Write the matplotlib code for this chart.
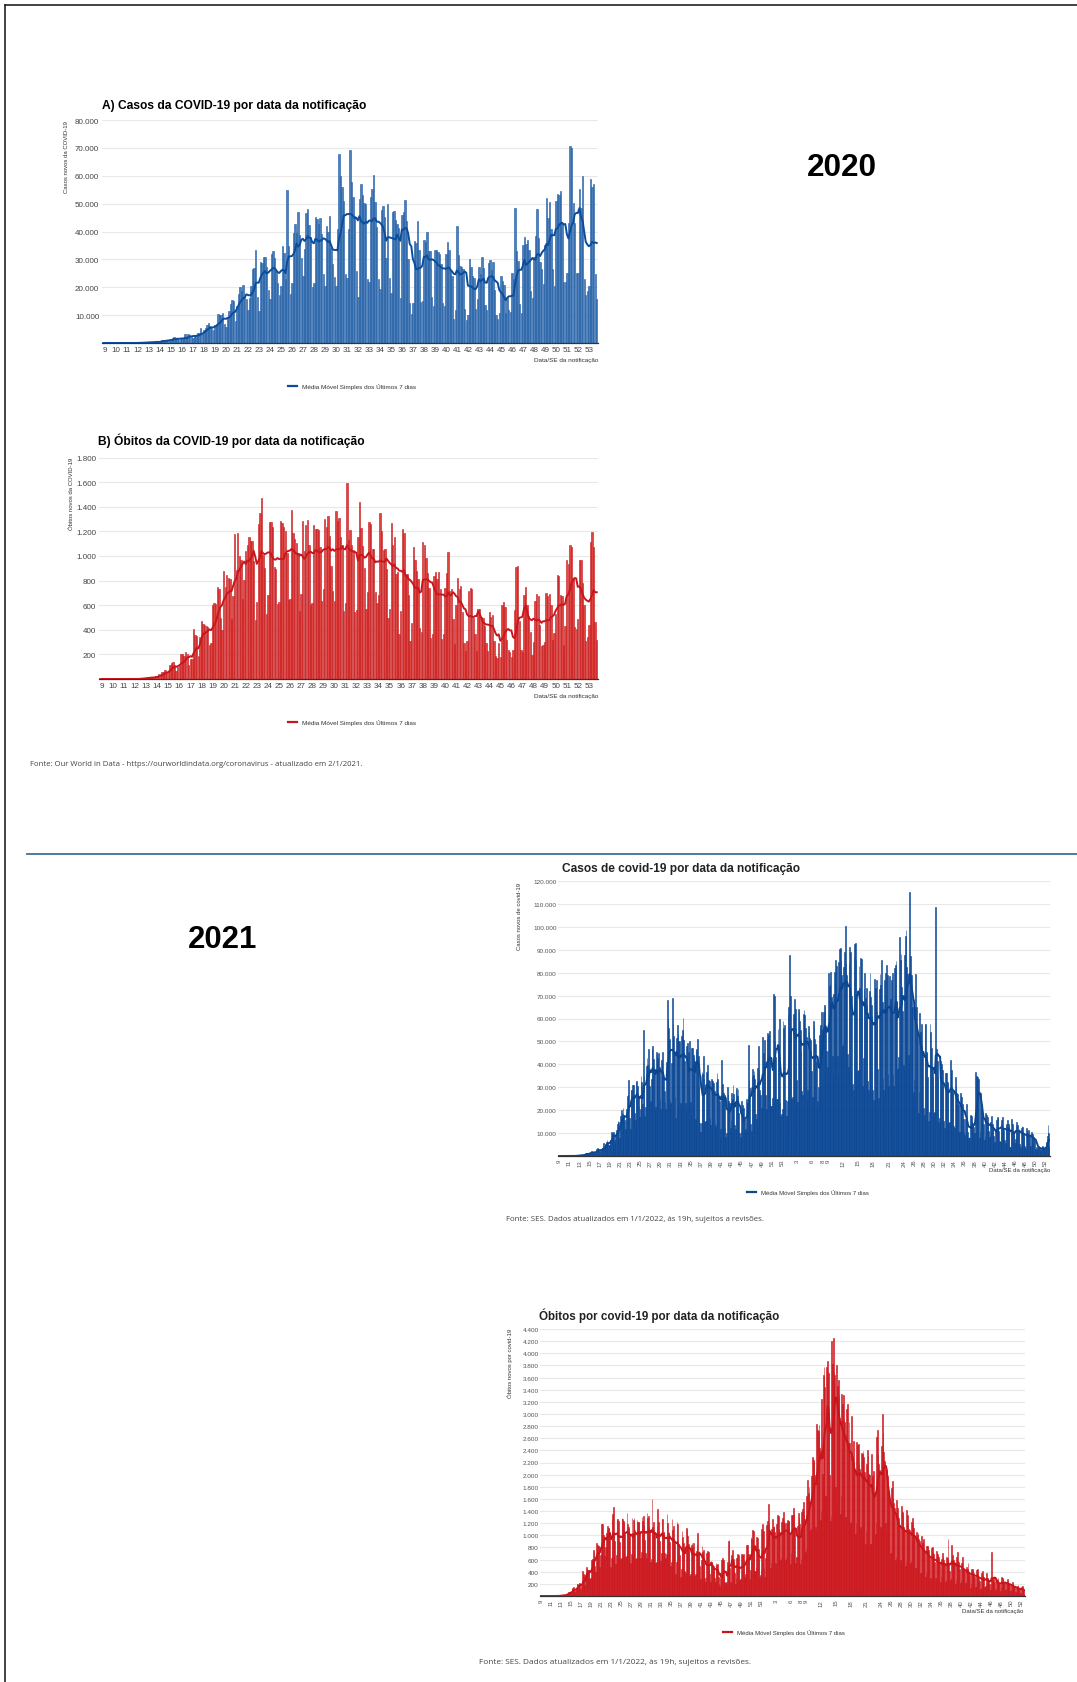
import numpy as np
import pandas as pd
import matplotlib
matplotlib.use("Agg")
import matplotlib.pyplot as plt
from matplotlib.lines import Line2D
from matplotlib.ticker import FuncFormatter

plt.rcParams["font.family"] = ["Liberation Sans", "DejaVu Sans"]

W, H = 1077, 1683

# Novos casos diarios (milhares), SE 9/2020 a SE 53/2020, domingo a sabado
cases_2020_k = [
    0.0, 0.0, 0.0, 0.0, 0.0, 0.0, 0.0,
    0.0, 0.0, 0.0, 0.0, 0.0, 0.0, 0.0,
    0.0, 0.0, 0.0, 0.0, 0.1, 0.0, 0.0,
    0.1, 0.0, 0.1, 0.1, 0.2, 0.3, 0.2,
    0.4, 0.3, 0.3, 0.2, 0.5, 0.5, 0.5,
    0.4, 0.3, 1.1, 1.1, 1.1, 1.1, 1.2,
    0.9, 0.9, 1.7, 2.2, 1.9, 1.8, 1.1,
    1.4, 1.3, 1.8, 3.1, 2.1, 3.3, 2.9,
    2.1, 1.9, 2.5, 2.7, 3.7, 3.5, 5.5,
    3.4, 4.6, 5.4, 6.3, 7.2, 6.2, 5.0,
    4.6, 6.6, 6.9, 10.5, 9.9, 10.2, 10.6,
    6.8, 5.6, 9.3, 11.4, 13.9, 15.3, 14.9,
    7.9, 13.1, 17.4, 20.0, 18.5, 20.8, 16.5,
    15.8, 11.7, 16.3, 20.6, 26.4, 26.9, 33.3,
    16.4, 11.6, 28.9, 28.6, 31.0, 30.8, 27.1,
    18.9, 15.7, 32.1, 32.9, 30.4, 26.0, 21.7,
    17.1, 20.6, 34.9, 32.2, 22.8, 54.8, 34.7,
    17.5, 21.4, 39.4, 42.7, 39.5, 46.9, 38.7,
    30.5, 24.1, 33.8, 46.7, 48.1, 42.2, 37.9,
    20.2, 21.5, 45.3, 44.6, 42.6, 45.0, 39.0,
    24.8, 20.3, 41.9, 39.9, 45.4, 34.2, 28.5,
    23.5, 20.3, 41.0, 67.9, 60.0, 55.9, 51.1,
    24.6, 23.3, 40.8, 69.1, 57.8, 52.4, 45.4,
    25.8, 16.6, 51.6, 57.2, 53.1, 50.2, 50.0,
    23.0, 22.0, 52.2, 55.2, 60.1, 50.6, 41.6,
    23.1, 19.4, 47.8, 49.3, 45.3, 30.4, 50.0,
    23.4, 17.8, 47.1, 47.2, 44.2, 42.7, 41.4,
    16.2, 46.0, 46.9, 51.2, 43.8, 30.2, 14.5,
    10.3, 14.3, 36.7, 35.8, 43.7, 33.5, 14.8,
    15.2, 36.8, 36.3, 39.8, 33.1, 32.9, 16.4,
    13.4, 33.5, 33.3, 32.8, 31.9, 28.4, 14.2,
    13.2, 32.1, 36.2, 33.4, 26.3, 24.1, 8.5,
    11.9, 41.9, 31.6, 27.8, 27.4, 26.7, 12.3,
    8.4, 10.2, 30.0, 27.2, 24.1, 23.2, 12.3,
    15.8, 27.4, 24.8, 30.9, 27.0, 13.5, 11.8,
    28.6, 29.8, 26.1, 29.1, 18.9, 10.1, 8.5,
    10.6, 24.0, 22.4, 20.9, 10.9, 16.2, 12.0,
    11.0, 25.0, 23.0, 48.5, 33.0, 29.5, 14.0,
    10.8, 35.0, 38.0, 35.5, 37.0, 33.5, 18.5,
    16.0, 31.0, 38.5, 48.0, 37.5, 29.0, 26.5,
    21.0, 35.0, 52.0, 45.0, 50.5, 41.0, 26.5,
    20.5, 51.0, 53.5, 53.0, 54.5, 43.0, 22.0,
    21.8, 25.2, 42.9, 70.6, 69.8, 50.2, 43.0,
    25.0, 25.0, 55.3, 48.3, 60.0, 23.0, 17.3,
    18.5, 20.5, 58.7, 56.0, 57.0, 24.6, 15.8,
]

# Novos obitos diarios, SE 9/2020 a SE 53/2020
deaths_2020 = [
    0, 0, 0, 0, 0, 0, 0,
    0, 0, 0, 0, 0, 0, 0,
    0, 0, 0, 0, 0, 0, 0,
    0, 0, 1, 3, 4, 7, 8,
    9, 9, 13, 10, 19, 12, 15,
    22, 23, 42, 40, 58, 60, 73,
    54, 67, 114, 133, 141, 115, 68,
    99, 105, 204, 204, 188, 217, 206,
    113, 166, 165, 407, 357, 346, 189,
    338, 474, 449, 435, 428, 421, 275,
    296, 600, 615, 610, 751, 730, 496,
    396, 881, 749, 844, 824, 816, 485,
    674, 1179, 888, 1188, 1001, 965, 653,
    807, 1039, 1086, 1156, 1124, 1124, 956,
    480, 623, 1262, 1349, 1473, 1005, 904,
    525, 679, 1274, 1272, 1239, 909, 892,
    612, 627, 1282, 1269, 1238, 1206, 1022,
    641, 654, 1374, 1185, 1141, 1109, 1022,
    552, 692, 1280, 1038, 1252, 1290, 1091,
    602, 620, 1254, 1223, 1220, 1214, 1071,
    631, 733, 1300, 1233, 1322, 1163, 921,
    716, 632, 1367, 1284, 1311, 1156, 1088,
    555, 614, 1595, 1129, 1212, 1088, 1048,
    541, 561, 1154, 1437, 1226, 1079, 905,
    572, 703, 1274, 1262, 1060, 1060, 709,
    620, 684, 1352, 1204, 1045, 1054, 892,
    494, 565, 1271, 1085, 1156, 855, 869,
    366, 553, 1215, 1184, 834, 851, 682,
    310, 452, 1075, 967, 874, 814, 415,
    381, 1113, 1090, 987, 858, 739, 337,
    363, 836, 869, 809, 869, 729, 327,
    363, 741, 865, 1031, 717, 734, 488,
    282, 599, 819, 730, 754, 541, 293,
    230, 309, 713, 740, 730, 497, 363,
    230, 571, 566, 507, 497, 434, 296,
    226, 546, 507, 523, 311, 190, 169,
    295, 182, 600, 628, 589, 315, 237,
    216, 176, 234, 558, 910, 920, 469,
    237, 216, 683, 750, 605, 513, 384,
    194, 302, 630, 691, 675, 438, 266,
    280, 300, 697, 674, 694, 600, 319,
    370, 529, 842, 837, 686, 674, 279,
    433, 968, 936, 1092, 1075, 823, 419,
    410, 486, 968, 963, 778, 604, 309,
    343, 437, 1111, 1194, 1074, 462, 314,
]

# Novos casos diarios (milhares), SE 1/2021 a SE 52/2021
cases_2021_k = [
    17.3, 24.0, 62.0, 65.0, 87.8, 70.0, 52.0,
    25.0, 25.9, 61.8, 60.9, 68.5, 64.0, 56.0,
    33.0, 23.7, 64.0, 63.3, 59.1, 55.0, 46.0,
    28.3, 26.8, 61.9, 63.5, 61.7, 56.0, 52.0,
    24.6, 29.0, 56.9, 54.1, 51.4, 50.6, 37.0,
    23.0, 25.9, 59.0, 56.9, 51.0, 49.0, 41.0,
    21.0, 24.0, 30.0, 53.0, 56.0, 57.0, 63.0,
    29.0, 55.0, 63.0, 66.0, 65.0, 55.0, 46.0,
    39.0, 46.0, 79.9, 74.4, 75.1, 80.5, 69.6,
    43.8, 35.8, 70.7, 80.5, 75.1, 85.7, 83.0,
    43.8, 36.2, 84.5, 90.3, 90.8, 85.6, 79.1,
    47.8, 49.3, 82.5, 89.2, 100.2, 84.2, 78.8,
    44.3, 38.9, 84.4, 91.1, 89.0, 37.7, 69.7,
    31.4, 28.6, 86.9, 92.6, 93.0, 85.7, 70.2,
    37.0, 37.7, 82.9, 73.2, 86.6, 85.8, 67.6,
    30.6, 42.9, 72.7, 79.7, 69.0, 73.2, 65.8,
    32.6, 28.6, 72.1, 79.7, 69.4, 66.0, 60.9,
    28.9, 24.6, 77.4, 73.4, 73.3, 76.7, 63.0,
    37.9, 25.2, 72.7, 79.6, 74.6, 85.5, 67.0,
    34.1, 29.0, 76.7, 69.0, 80.0, 83.4, 79.2,
    35.8, 30.4, 78.5, 68.4, 67.5, 76.9, 79.7,
    35.8, 30.4, 82.1, 83.4, 85.0, 67.5, 37.9,
    39.0, 43.0, 95.4, 85.7, 88.0, 73.6, 63.3,
    39.6, 37.9, 87.8, 95.9, 98.8, 82.3, 79.3,
    44.2, 41.0, 115.2, 87.3, 78.9, 64.9, 65.2,
    27.8, 33.7, 64.9, 79.3, 65.2, 57.7, 53.5,
    18.9, 27.8, 62.5, 54.0, 57.7, 48.5, 45.6,
    20.9, 18.0, 57.7, 57.5, 45.6, 45.1, 34.3,
    15.3, 19.1, 57.7, 54.0, 47.0, 38.1, 34.3,
    18.9, 19.3, 41.4, 108.7, 46.9, 41.4, 34.3,
    15.0, 16.7, 40.7, 41.4, 40.1, 37.6, 31.1,
    15.1, 12.1, 36.3, 32.1, 36.3, 32.3, 31.3,
    14.4, 14.8, 41.7, 35.8, 37.6, 28.5, 27.3,
    13.2, 12.4, 34.4, 30.9, 27.3, 27.0, 22.4,
    10.5, 10.4, 27.3, 26.3, 25.6, 22.5, 16.0,
    10.3, 9.2, 16.0, 22.5, 15.0, 10.5, 8.0,
    8.1, 7.8, 18.0, 17.3, 15.4, 14.3, 12.5,
    9.4, 10.0, 36.6, 35.0, 34.5, 34.4, 33.5,
    7.7, 10.6, 27.5, 20.4, 18.4, 16.4, 14.1,
    6.9, 8.9, 18.8, 17.8, 17.2, 14.4, 11.0,
    8.3, 9.0, 14.9, 17.5, 14.0, 12.5, 8.8,
    6.0, 5.0, 12.0, 15.8, 17.2, 16.7, 11.0,
    6.6, 6.2, 13.8, 15.6, 16.9, 12.0, 11.5,
    7.0, 5.6, 13.2, 14.1, 15.6, 14.0, 12.9,
    4.0, 3.9, 10.3, 16.0, 13.8, 10.2, 11.0,
    5.7, 7.6, 12.9, 14.7, 13.6, 10.5, 11.7,
    5.3, 4.0, 12.3, 13.3, 12.8, 10.0, 8.8,
    4.2, 3.6, 12.3, 11.4, 10.2, 11.3, 8.9,
    4.1, 4.3, 10.4, 8.9, 9.6, 8.5, 7.2,
    2.5, 3.0, 4.0, 3.4, 3.1, 4.2, 3.8,
    2.0, 2.6, 3.4, 4.5, 3.5, 3.3, 3.6,
    2.8, 3.5, 6.0, 8.9, 13.5, 10.1, 3.8,
]

# Novos obitos diarios, SE 1/2021 a SE 52/2021
deaths_2021 = [
    620, 715, 1171, 1242, 1524, 1186, 1036,
    469, 554, 1110, 1274, 1131, 1151, 1050,
    551, 452, 1183, 1340, 1316, 1096, 1054,
    591, 627, 1214, 1283, 1386, 1232, 1206,
    595, 639, 1209, 1254, 1232, 1239, 1029,
    525, 713, 1340, 1330, 1452, 1351, 1091,
    543, 648, 639, 1150, 1367, 1309, 1186,
    527, 616, 1386, 1428, 1541, 1386, 1274,
    721, 778, 1641, 1910, 1699, 1800, 1555,
    1086, 1114, 1972, 2286, 2233, 2216, 1997,
    1129, 1057, 2841, 2736, 2724, 2815, 2438,
    1259, 1383, 3251, 2009, 3650, 3769, 3438,
    1656, 1660, 3780, 3869, 3673, 2922, 1987,
    1240, 1319, 4195, 3829, 4249, 3693, 3647,
    1803, 1480, 3808, 3459, 3560, 3305, 2929,
    1347, 1657, 3321, 3157, 3305, 2914, 2865,
    1305, 1202, 3086, 3163, 2527, 2870, 2524,
    1202, 1232, 2966, 2311, 2556, 2202, 2087,
    1024, 1211, 2545, 2494, 2513, 2178, 2087,
    1129, 1101, 2362, 2345, 2383, 2298, 2045,
    860, 1063, 2173, 2403, 2311, 2012, 1989,
    860, 873, 2346, 1983, 1633, 2053, 1692,
    1025, 1200, 2612, 2743, 2342, 2178, 2069,
    1129, 1078, 2468, 2997, 2694, 2367, 2221,
    1202, 1033, 2081, 1984, 1841, 1725, 1566,
    709, 708, 1780, 1893, 1607, 1532, 1455,
    592, 635, 1574, 1452, 1324, 1289, 1172,
    595, 542, 1485, 1380, 1352, 1131, 1089,
    493, 571, 1424, 1333, 1204, 1108, 1081,
    542, 578, 1220, 1288, 1186, 1124, 995,
    463, 463, 1056, 1012, 1044, 944, 910,
    374, 372, 982, 866, 913, 938, 717,
    316, 378, 831, 826, 804, 766, 632,
    294, 288, 798, 808, 719, 692, 566,
    293, 302, 736, 697, 653, 643, 539,
    231, 326, 609, 712, 645, 589, 538,
    223, 269, 643, 618, 936, 503, 412,
    271, 300, 839, 683, 580, 597, 525,
    199, 258, 643, 732, 573, 556, 451,
    207, 257, 551, 642, 451, 460, 408,
    221, 225, 486, 447, 540, 392, 346,
    134, 194, 451, 448, 421, 387, 311,
    141, 164, 432, 452, 385, 279, 245,
    118, 130, 379, 406, 344, 317, 154,
    158, 186, 378, 290, 298, 241, 201,
    102, 202, 728, 280, 262, 314, 229,
    102, 131, 286, 261, 291, 206, 193,
    86, 142, 305, 299, 279, 224, 214,
    95, 118, 233, 277, 246, 214, 180,
    77, 91, 175, 223, 193, 168, 150,
    58, 65, 130, 170, 175, 120, 108,
    55, 40, 148, 163, 121, 84, 40,
]

weeks_2020 = list(range(9, 54))
weeks_2021_labels = [3, 6, 8, 9, 12, 15, 18, 21, 24] + list(range(26, 53, 2))

legend_label = "Média Móvel Simples dos Últimos 7 dias"
axis_note = "Data/SE da notificação"

fig = plt.figure(figsize=(W / 100, H / 100), dpi=100)
fig.patch.set_facecolor("white")
renderer = fig.canvas.get_renderer()

dot_fmt = FuncFormatter(lambda v, p: f"{int(round(v)):,}".replace(",", "."))


def px_axes(x0, y0, x1, y1):
    return fig.add_axes([x0 / W, 1 - y1 / H, (x1 - x0) / W, (y1 - y0) / H])


def fig_text(x, y, s, width=None, **kw):
    t = fig.text(x / W, 1 - y / H, s, **kw)
    if width:
        w = t.get_window_extent(renderer).width
        t.set_fontsize(t.get_fontsize() * width / w)
    return t


def draw_panel(ax, values, bar_col, edge_col, line_col, ymax, ystep,
               xticks, xlabels, rot, ylabel, ylab_x, ylab_y, bar_w=0.85):
    x = np.arange(len(values))
    ma = pd.Series(values).rolling(7, min_periods=1).mean()
    ax.bar(x, values, width=bar_w, color=bar_col, edgecolor=edge_col,
           linewidth=0.4, zorder=2)
    ax.plot(x, ma, color=line_col, lw=1.4, zorder=3)
    ax.set_xlim(-0.8, len(values) - 0.2)
    ax.set_ylim(0, ymax)
    ax.set_yticks(np.arange(ystep, ymax + 1, ystep))
    ax.yaxis.set_major_formatter(dot_fmt)
    ax.set_xticks(xticks)
    ax.set_xticklabels(xlabels, rotation=rot)
    ax.yaxis.grid(True, color="#e8e8e8", lw=0.8)
    ax.set_axisbelow(True)
    for s in ["left", "right", "top"]:
        ax.spines[s].set_visible(False)
    ax.spines["bottom"].set_color("#333333")
    ax.spines["bottom"].set_linewidth(0.9)
    ax.tick_params(length=0, pad=2, labelsize=5.8, colors="#444444")
    ax.text(ylab_x, ylab_y, ylabel, transform=ax.transAxes, rotation=90,
            ha="center", va="center", fontsize=4.3, color="#333333")
    return ma


title_fam = ["Liberation Sans Narrow", "Liberation Sans", "DejaVu Sans"]
plain_fam = ["Liberation Sans", "DejaVu Sans"]
note_fam = ["Liberation Sans Narrow", "Open Sans", "DejaVu Sans"]

# A) casos 2020
ticks_a = [(w - 9) * 7 + 1 for w in weeks_2020]
ax_a = px_axes(102, 121, 598, 344)
draw_panel(ax_a, np.array(cases_2020_k) * 1000, "#4a7fba", "#1d5aa3", "#0b4c9c",
           80000, 10000, ticks_a, [str(w) for w in weeks_2020], 0,
           "Casos novos da COVID-19", -0.071, 0.84)
ax_a.legend(handles=[Line2D([], [], color="#0b4c9c", lw=1.6)], labels=[legend_label],
            loc="center", bbox_to_anchor=(352 / W, 1 - 387 / H),
            bbox_transform=fig.transFigure, frameon=False, fontsize=4.6,
            handlelength=1.4, labelcolor="#333333")
fig_text(102, 106, "A) Casos da COVID-19 por data da notificação", width=262,
         fontsize=10, fontweight="bold", family=title_fam, va="center")
fig_text(598, 361, axis_note, fontsize=4.6, ha="right", va="center", color="#333333")

# B) obitos 2020
ax_b = px_axes(99, 458.5, 598, 680)
draw_panel(ax_b, np.array(deaths_2020), "#e2433c", "#c3161c", "#c8161d",
           1800, 200, ticks_a, [str(w) for w in weeks_2020], 0,
           "Óbitos novos da COVID-19", -0.056, 0.84)
ax_b.legend(handles=[Line2D([], [], color="#c8161d", lw=1.6)], labels=[legend_label],
            loc="center", bbox_to_anchor=(352 / W, 1 - 723 / H),
            bbox_transform=fig.transFigure, frameon=False, fontsize=4.6,
            handlelength=1.4, labelcolor="#333333")
fig_text(98, 441, "B) Óbitos da COVID-19 por data da notificação", width=264,
         fontsize=10, fontweight="bold", family=title_fam, va="center")
fig_text(598, 697, axis_note, fontsize=4.6, ha="right", va="center", color="#333333")

fig_text(30, 765, "Fonte: Our World in Data - https://ourworldindata.org/coronavirus - atualizado em 2/1/2021.",
         width=339, fontsize=5, family=note_fam, va="center", color="#444444")

# 2021: serie completa desde SE 9/2020
cases_all = np.array(cases_2020_k + cases_2021_k) * 1000
deaths_all = np.array(deaths_2020 + deaths_2021)
ticks_c = [(w - 9) * 7 + 1 for w in range(9, 54, 2)] + \
          [315 + (w - 1) * 7 + 1 for w in weeks_2021_labels]
labels_c = [str(w) for w in range(9, 54, 2)] + [str(w) for w in weeks_2021_labels]

ax_c = px_axes(558, 882, 1050, 1157)
draw_panel(ax_c, cases_all, "#0d4c9b", "#0a4593", "#0b4791",
           120000, 10000, ticks_c, labels_c, 90,
           "Casos novos de covid-19", -0.079, 0.876, bar_w=1.0)
ax_c.tick_params(axis="x", labelsize=4.3, colors="#555555")
ax_c.tick_params(axis="y", labelsize=4.6, colors="#555555", pad=1)
ax_c.legend(handles=[Line2D([], [], color="#0b4791", lw=1.6)], labels=[legend_label],
            loc="center", bbox_to_anchor=(808 / W, 1 - 1193 / H),
            bbox_transform=fig.transFigure, frameon=False, fontsize=4.3,
            handlelength=1.4, labelcolor="#333333")
fig_text(562, 869, "Casos de covid-19 por data da notificação", width=238,
         fontsize=9, fontweight="bold", family=plain_fam, va="center", color="#222222")
fig_text(1050, 1171, axis_note, fontsize=4.3, ha="right", va="center", color="#333333")
fig_text(506, 1220, "Fonte: SES. Dados atualizados em 1/1/2022, às 19h, sujeitos a revisões.",
         width=264, fontsize=5, family=note_fam, va="center", color="#444444")

ax_d = px_axes(540, 1330, 1025, 1597)
draw_panel(ax_d, deaths_all, "#d81c22", "#c8141b", "#c8141b",
           4400, 200, ticks_c, labels_c, 90,
           "Óbitos novos por covid-19", -0.062, 0.876, bar_w=1.0)
ax_d.tick_params(axis="x", labelsize=4.3, colors="#555555")
ax_d.tick_params(axis="y", labelsize=4.6, colors="#555555", pad=1)
ax_d.legend(handles=[Line2D([], [], color="#c8141b", lw=1.6)], labels=[legend_label],
            loc="center", bbox_to_anchor=(784 / W, 1 - 1633 / H),
            bbox_transform=fig.transFigure, frameon=False, fontsize=4.3,
            handlelength=1.4, labelcolor="#333333")
fig_text(539, 1316, "Óbitos por covid-19 por data da notificação", width=239,
         fontsize=9, fontweight="bold", family=plain_fam, va="center", color="#222222")
fig_text(1023, 1612, axis_note, fontsize=4.3, ha="right", va="center", color="#333333")
fig_text(479, 1663, "Fonte: SES. Dados atualizados em 1/1/2022, às 19h, sujeitos a revisões.",
         width=276, fontsize=5, family=note_fam, va="center", color="#444444")

# anos e separadores
fig_text(842, 168, "2020", width=70, fontsize=22, fontweight="bold",
         family=plain_fam, ha="center", va="center")
fig_text(223, 940, "2021", width=69, fontsize=22, fontweight="bold",
         family=plain_fam, ha="center", va="center")
fig.add_artist(Line2D([27 / W, 1], [1 - 855 / H] * 2, color="#3d7196", lw=1.3))
fig.add_artist(Line2D([5 / W, 1], [1 - 6 / H] * 2, color="#222222", lw=1.2))
fig.add_artist(Line2D([5 / W, 5 / W], [1 - 6 / H, 0], color="#222222", lw=1.2))

fig.savefig("out.png", dpi=100, facecolor="white")
